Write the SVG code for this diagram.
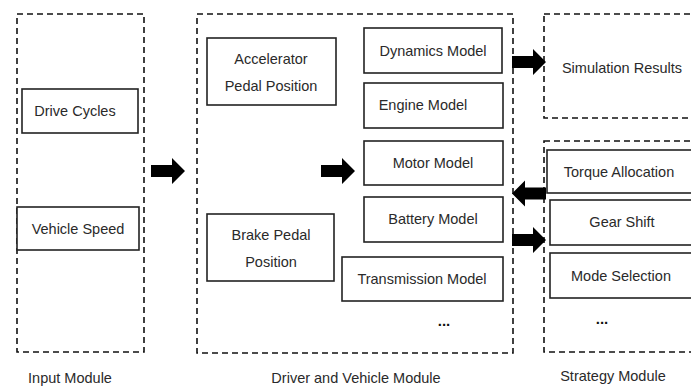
<svg xmlns="http://www.w3.org/2000/svg" xmlns:xlink="http://www.w3.org/1999/xlink" width="691" height="387" viewBox="0 0 691 387">
  <style>
    .module { fill: none; stroke: #111; stroke-width: 1.6; stroke-dasharray: 6 4; }
    .box { fill: #fff; stroke: #222; stroke-width: 1.6; }
    .label { font-family: "Liberation Sans", Arial, sans-serif; font-size: 14.5px; fill: #2a2a2a; text-anchor: middle; }
    .dots { font-family: "Liberation Sans", Arial, sans-serif; font-size: 15px; font-weight: bold; fill: #111; text-anchor: middle; }
    .arrow { fill: #000; }
  </style>
  <defs>
    <!-- block arrow pointing right, origin at the tail centre -->
    <path id="blockArrow" d="M0,-6 H21 V-13 L34,0 L21,13 V6 H0 Z"/>
  </defs>
  <rect width="691" height="387" fill="#fff"/>

  <!-- module frames -->
  <g id="input-module">
    <rect class="module" x="17" y="14" width="127" height="338"/>
    <text class="label" x="70" y="383">Input Module</text>
  </g>
  <g id="driver-vehicle-module">
    <rect class="module" x="197" y="14" width="316" height="339"/>
    <text class="label" x="356" y="383">Driver and Vehicle Module</text>
    <text class="dots" x="444" y="326">...</text>
  </g>
  <g id="simulation-results">
    <rect class="module" x="544" y="14" width="160" height="104"/>
    <text class="label" x="622" y="73">Simulation Results</text>
  </g>
  <g id="strategy-module">
    <rect class="module" x="544" y="141" width="160" height="211"/>
    <text class="label" x="613" y="381">Strategy Module</text>
    <text class="dots" x="602" y="324">...</text>
  </g>

  <!-- input blocks -->
  <g id="drive-cycles">
    <rect class="box" x="22" y="89" width="116" height="44"/>
    <text class="label" x="75" y="116">Drive Cycles</text>
  </g>
  <g id="vehicle-speed">
    <rect class="box" x="17" y="207" width="122" height="43"/>
    <text class="label" x="78" y="234">Vehicle Speed</text>
  </g>

  <!-- driver and vehicle blocks -->
  <g id="accelerator-pedal">
    <rect class="box" x="207" y="38" width="129" height="67"/>
    <text class="label" x="271" y="64">Accelerator</text>
    <text class="label" x="271" y="91">Pedal Position</text>
  </g>
  <g id="brake-pedal">
    <rect class="box" x="207" y="214" width="127" height="67"/>
    <text class="label" x="271" y="240">Brake Pedal</text>
    <text class="label" x="271" y="267">Position</text>
  </g>
  <g id="dynamics-model">
    <rect class="box" x="364" y="28" width="138" height="45"/>
    <text class="label" x="433" y="56">Dynamics Model</text>
  </g>
  <g id="engine-model">
    <rect class="box" x="364" y="83" width="139" height="45"/>
    <text class="label" x="423" y="110">Engine Model</text>
  </g>
  <g id="motor-model">
    <rect class="box" x="364" y="141" width="139" height="44"/>
    <text class="label" x="433" y="168">Motor Model</text>
  </g>
  <g id="battery-model">
    <rect class="box" x="364" y="197" width="139" height="45"/>
    <text class="label" x="433" y="224">Battery Model</text>
  </g>
  <g id="transmission-model">
    <rect class="box" x="342" y="257" width="161" height="44"/>
    <text class="label" x="422" y="284">Transmission Model</text>
  </g>

  <!-- strategy blocks -->
  <g id="torque-allocation">
    <rect class="box" x="547" y="150" width="160" height="43"/>
    <text class="label" x="619" y="177">Torque Allocation</text>
  </g>
  <g id="gear-shift">
    <rect class="box" x="550" y="200" width="157" height="45"/>
    <text class="label" x="622" y="227">Gear Shift</text>
  </g>
  <g id="mode-selection">
    <rect class="box" x="550" y="253" width="157" height="45"/>
    <text class="label" x="621" y="281">Mode Selection</text>
  </g>

  <!-- connectors -->
  <g id="connectors" class="arrow">
    <use xlink:href="#blockArrow" transform="translate(151,171)"/>
    <use xlink:href="#blockArrow" transform="translate(321,171)"/>
    <use xlink:href="#blockArrow" transform="translate(512,62)"/>
    <use xlink:href="#blockArrow" transform="translate(546,193.5) rotate(180)"/>
    <use xlink:href="#blockArrow" transform="translate(512,240)"/>
  </g>
</svg>
